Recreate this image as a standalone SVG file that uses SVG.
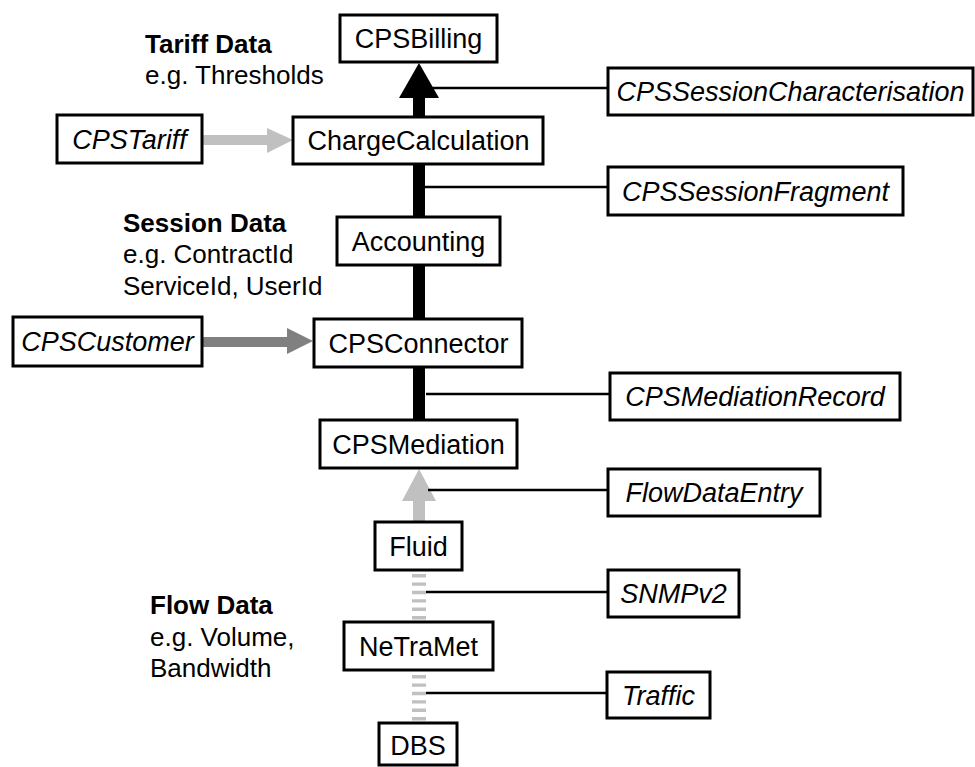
<svg xmlns="http://www.w3.org/2000/svg" width="975" height="767" viewBox="0 0 975 767">
<style>
.box{fill:#fff;stroke:#000;stroke-width:3}
.t{font-family:"Liberation Sans",Arial,sans-serif;font-size:27px;fill:#000;text-anchor:middle}
.i{font-style:italic}
.lab{font-family:"Liberation Sans",Arial,sans-serif;font-size:26px;fill:#000}
.b{font-weight:bold}
.thin{stroke:#000;stroke-width:2.5;fill:none}
</style>
<rect width="975" height="767" fill="#fff"/>
<g id="connectors">
  <line x1="419" y1="96" x2="419" y2="420" stroke="#000" stroke-width="12"/>
  <polygon points="419,63 439,98 399,98" fill="#000"/>
  <line class="thin" x1="425" y1="88" x2="608" y2="88"/>
  <line class="thin" x1="425" y1="187" x2="608" y2="187"/>
  <line class="thin" x1="426" y1="394" x2="610" y2="394"/>
  <line x1="419" y1="499" x2="419" y2="522" stroke="#c0c0c0" stroke-width="12"/>
  <polygon points="419,469 436,501 402,501" fill="#c0c0c0"/>
  <line class="thin" x1="428" y1="490" x2="608" y2="490"/>
  <line x1="419" y1="574" x2="419" y2="620" stroke="#c0c0c0" stroke-width="14" stroke-dasharray="3.4 5"/>
  <line class="thin" x1="426" y1="592" x2="608" y2="592"/>
  <line x1="419" y1="675" x2="419" y2="721" stroke="#c0c0c0" stroke-width="14" stroke-dasharray="3.4 5"/>
  <line class="thin" x1="426" y1="693" x2="607" y2="693"/>
  <line x1="203" y1="140" x2="269" y2="140" stroke="#c0c0c0" stroke-width="10"/>
  <polygon points="293,140 267,128 267,153" fill="#c0c0c0"/>
  <line x1="203" y1="342" x2="289" y2="342" stroke="#808080" stroke-width="10"/>
  <polygon points="313,341 287,328 287,354" fill="#808080"/>
</g>
<g id="labels">
  <text class="lab b" x="145" y="53">Tariff Data</text>
  <text class="lab" x="145" y="84">e.g. Thresholds</text>
  <text class="lab b" x="123" y="232">Session Data</text>
  <text class="lab" x="123" y="263">e.g. ContractId</text>
  <text class="lab" x="123" y="295">ServiceId, UserId</text>
  <text class="lab b" x="150" y="614">Flow Data</text>
  <text class="lab" x="150" y="646">e.g. Volume,</text>
  <text class="lab" x="150" y="677">Bandwidth</text>
</g>
<g id="CPSBilling"><rect class="box" x="340" y="15" width="157" height="47"/><text class="t" x="418.5" y="48">CPSBilling</text></g>
<g id="ChargeCalculation"><rect class="box" x="293" y="117" width="250" height="47"/><text class="t" x="418.5" y="150">ChargeCalculation</text></g>
<g id="Accounting"><rect class="box" x="337" y="217" width="163" height="48"/><text class="t" x="418.5" y="250.5">Accounting</text></g>
<g id="CPSConnector"><rect class="box" x="314" y="319" width="208" height="48"/><text class="t" x="418.5" y="352.5">CPSConnector</text></g>
<g id="CPSMediation"><rect class="box" x="320" y="420" width="197" height="48"/><text class="t" x="418.5" y="453.5">CPSMediation</text></g>
<g id="Fluid"><rect class="box" x="375" y="522" width="87" height="48"/><text class="t" x="418.5" y="555.5">Fluid</text></g>
<g id="NeTraMet"><rect class="box" x="344" y="622" width="149" height="48"/><text class="t" x="418.5" y="655.5">NeTraMet</text></g>
<g id="DBS"><rect class="box" x="379" y="723" width="78" height="42"/><text class="t" x="418" y="755">DBS</text></g>
<g id="CPSTariff"><rect class="box" x="57" y="115" width="145" height="48"/><text class="t i" x="129.5" y="148.5">CPSTariff</text></g>
<g id="CPSCustomer"><rect class="box" x="13" y="317" width="189" height="49"/><text class="t i" x="107.5" y="351">CPSCustomer</text></g>
<g id="CPSSessionCharacterisation"><rect class="box" x="608" y="68" width="365" height="47"/><text class="t i" x="790.5" y="101">CPSSessionCharacterisation</text></g>
<g id="CPSSessionFragment"><rect class="box" x="608" y="167" width="295" height="48"/><text class="t i" x="755.5" y="200.5">CPSSessionFragment</text></g>
<g id="CPSMediationRecord"><rect class="box" x="610" y="373" width="290" height="47"/><text class="t i" x="755" y="406">CPSMediationRecord</text></g>
<g id="FlowDataEntry"><rect class="box" x="608" y="469" width="212" height="47"/><text class="t i" x="714" y="502">FlowDataEntry</text></g>
<g id="SNMPv2"><rect class="box" x="608" y="570" width="131" height="47"/><text class="t i" x="673.5" y="603">SNMPv2</text></g>
<g id="Traffic"><rect class="box" x="607" y="672" width="103" height="46"/><text class="t i" x="658.5" y="704.5">Traffic</text></g>
</svg>
